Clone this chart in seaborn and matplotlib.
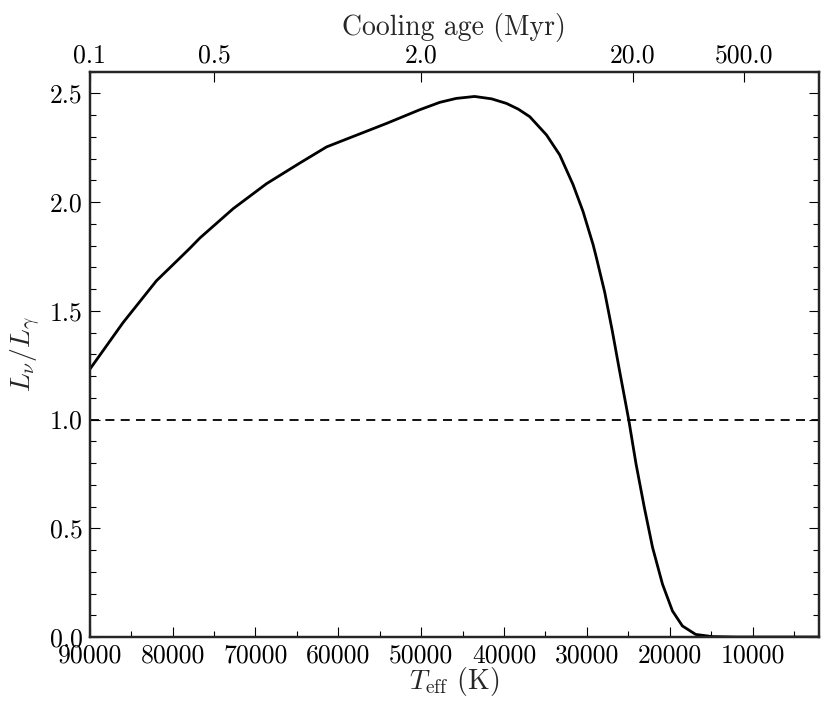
import numpy as np
import pandas as pd
import matplotlib
matplotlib.use("Agg")
import matplotlib.pyplot as plt
import seaborn as sns
from matplotlib.ticker import MultipleLocator, FormatStrFormatter, FixedLocator

# ---- data ----
teff = [90000, 85980, 81960, 77940, 76710, 72690, 68660, 64640, 61420, 58210,
        54185, 50170, 47750, 45780, 43550, 41500, 39710, 38300, 36900, 34880,
        33280, 31670, 30470, 29260, 28860, 27850, 26950, 26080, 24960, 24080,
        23080, 22080, 20880, 19680, 18480, 16880, 14880, 12000, 8000, 2000]
ratio = [1.231, 1.446, 1.638, 1.787, 1.835, 1.970, 2.085, 2.180, 2.254, 2.302,
         2.362, 2.425, 2.459, 2.477, 2.486, 2.475, 2.454, 2.428, 2.393, 2.309,
         2.217, 2.080, 1.957, 1.805, 1.745, 1.585, 1.410, 1.228, 1.000, 0.797,
         0.597, 0.412, 0.243, 0.120, 0.051, 0.012, 0.002, 0.0, 0.0, 0.0]
ref_level = 1.0
age_tick_teff = [90000, 75000, 50000, 24500, 11000]
age_tick_labels = ["0.1", "0.5", "2.0", "20.0", "500.0"]
x_major = [90000, 80000, 70000, 60000, 50000, 40000, 30000, 20000, 10000]

df = pd.DataFrame({"Teff": teff, "ratio": ratio})

sns.set_style("white")
plt.rcParams["font.family"] = ["cmr10", "DejaVu Serif"]
plt.rcParams["mathtext.fontset"] = "cm"
plt.rcParams["axes.formatter.use_mathtext"] = True
plt.rcParams["axes.unicode_minus"] = False

fig = plt.figure(figsize=(8.31, 7.16), dpi=100)
ax = fig.add_axes([0.108, 0.1103, 0.8775, 0.7896])

sns.lineplot(data=df, x="Teff", y="ratio", ax=ax, color="black", lw=2.0,
             sort=False, estimator=None)
ax.axhline(ref_level, color="black", lw=1.3, ls=(0, (5, 3.5)))

ax.set_xlim(90000, 2000)
ax.set_ylim(0, 2.6)
ax.xaxis.set_major_locator(FixedLocator(x_major))
ax.xaxis.set_minor_locator(MultipleLocator(5000))
ax.xaxis.set_major_formatter(FormatStrFormatter("%d"))
ax.yaxis.set_major_locator(MultipleLocator(0.5))
ax.yaxis.set_minor_locator(MultipleLocator(0.1))
ax.yaxis.set_major_formatter(FormatStrFormatter("%.1f"))

for s in ax.spines.values():
    s.set_linewidth(1.6)
    s.set_color("black")

ax.tick_params(which="both", direction="in", bottom=True, top=False,
               left=True, right=True, labelsize=18.5, colors="black")
ax.tick_params(which="major", length=7, width=0.8)
ax.tick_params(which="minor", length=4, width=0.8)
ax.tick_params(axis="x", pad=5)
ax.tick_params(axis="y", pad=5)

ax.set_xlabel(r"$T_{\rm eff}$ (K)", fontsize=20, labelpad=-2)
ax.set_ylabel(r"$L_\nu/L_\gamma$", fontsize=20, labelpad=5)

ax2 = ax.twiny()
ax2.set_xlim(ax.get_xlim())
ax2.set_xticks(age_tick_teff)
ax2.set_xticklabels(age_tick_labels)
ax2.tick_params(axis="x", direction="in", length=7, width=0.8,
                labelsize=18.5, pad=3, colors="black")
ax2.xaxis.set_minor_locator(FixedLocator([]))
for s in ax2.spines.values():
    s.set_linewidth(1.6)
ax2.set_xlabel("Cooling age (Myr)", fontsize=20, labelpad=6)

fig.savefig("out.png", dpi=100)
